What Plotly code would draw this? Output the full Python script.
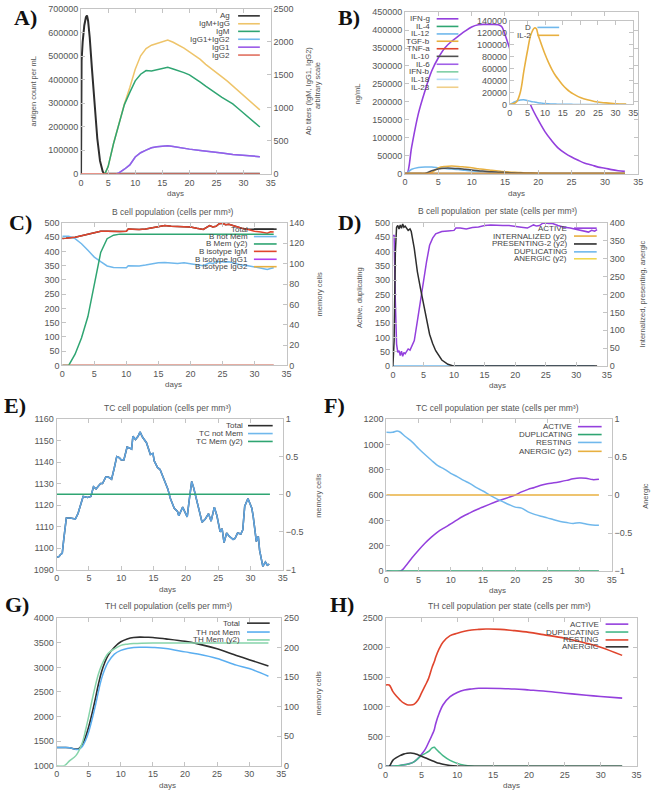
import plotly.graph_objects as go

# ---------------- DATA ----------------
A_ag_days = [0, 0.1, 0.3, 0.6, 0.9, 1.1, 1.3, 1.6, 2, 2.5, 3, 3.5, 4, 4.3, 10, 20, 33]
A_ag = [0, 480000, 560000, 630000, 665000, 672000, 650000, 580000, 450000, 290000, 150000, 55000, 10000, 0, 0, 0, 0]
A_ab_days = [4.4, 5, 6, 7, 8, 9, 10, 11, 12, 13, 14, 15, 16, 17, 18, 19, 20, 21, 22, 23, 24, 25, 26, 27, 28, 29, 30, 31, 32, 33]
A_igm_igg = [0, 110, 460, 760, 1060, 1310, 1585, 1790, 1900, 1950, 1980, 2010, 2030, 1995, 1955, 1905, 1850, 1795, 1735, 1660, 1600, 1530, 1470, 1405, 1335, 1260, 1190, 1115, 1045, 970]
A_igm = [0, 110, 460, 760, 1050, 1235, 1410, 1510, 1565, 1560, 1575, 1590, 1615, 1590, 1565, 1535, 1500, 1450, 1390, 1330, 1270, 1215, 1160, 1110, 1060, 990, 920, 855, 785, 710]
A_igg_days = [6.5, 7, 8, 9, 10, 11, 12, 13, 14, 15, 16, 17, 18, 20, 22, 24, 26, 28, 30, 32, 33]
A_igg1 = [0, 15, 70, 135, 255, 320, 360, 395, 410, 422, 425, 415, 400, 375, 355, 330, 315, 295, 285, 270, 260]
A_igg12 = [0, 15, 70, 135, 255, 320, 360, 395, 410, 422, 425, 415, 400, 375, 355, 330, 315, 295, 285, 270, 260]
A_zero_days = [0, 33]
A_igg2 = [0, 0]

B_days = [0, 0.3, 1, 2, 3, 4, 5, 6, 7, 8, 9, 10, 11, 12, 13, 14, 14.5, 15, 16, 17, 18, 19, 20, 21, 22, 23, 24, 25, 26, 27, 28, 29, 30, 31, 32, 33]
B_ifng = [0, 0, 75000, 167000, 231000, 286000, 323000, 351000, 369000, 383000, 397000, 409000, 415000, 416000, 416000, 415000, 410000, 388000, 332000, 277000, 231000, 185000, 149000, 117000, 92000, 71000, 57000, 46000, 37000, 29000, 24000, 18000, 15000, 11000, 8000, 6000]
B_il12 = [0, 2000, 12000, 17000, 18500, 18000, 16000, 14000, 12500, 11000, 9000, 7500, 6000, 4500, 3500, 2500, 2000, 1700, 1200, 800, 500, 350, 200, 100, 50, 0, 0, 0, 0, 0, 0, 0, 0, 0, 0, 0]
B_tgfb = [0, 0, 0, 0, 0, 3000, 16000, 20000, 21000, 20000, 18000, 16000, 13500, 11000, 9000, 7000, 6000, 5000, 4000, 3000, 2000, 1500, 1000, 700, 500, 300, 200, 100, 50, 0, 0, 0, 0, 0, 0, 0]
B_il10 = [0, 0, 0, 0, 500, 8000, 13000, 15000, 15000, 14000, 12000, 10000, 8000, 6500, 5000, 4000, 3500, 3000, 2000, 1500, 1000, 700, 400, 200, 100, 0, 0, 0, 0, 0, 0, 0, 0, 0, 0, 0]
B_zero_days = [0, 33]
B_zero = [0, 0]
Bi_days = [0, 1, 2, 3, 4, 5, 6, 7, 7.5, 8, 9, 10, 11, 12, 13, 14, 15, 16, 17, 18, 19, 20, 22, 24, 26, 28, 30, 33]
Bi_il2 = [0, 1000, 5000, 20400, 56000, 89000, 117000, 128000, 127000, 117000, 100000, 84000, 70000, 58000, 48000, 40000, 32500, 26500, 21500, 17600, 14300, 11600, 7700, 5000, 3300, 2200, 1100, 500]
Bi_d = [0, 3000, 6000, 7500, 8000, 6500, 5000, 4000, 3500, 3000, 2200, 1500, 1100, 800, 600, 400, 300, 200, 150, 100, 80, 60, 40, 20, 10, 0, 0, 0]

C_days = [0, 1, 2, 3, 4, 5, 6, 7, 8, 9, 10, 10.3, 11, 12, 13, 14, 15, 16, 17, 18, 19, 20, 21, 22, 23, 23.5, 24, 24.5, 25, 25.5, 26, 27, 28, 29, 30, 31, 32, 32.5, 33]
C_igm = [445, 447, 450, 455, 460, 464, 471, 471, 470, 470, 471, 479, 478, 477, 479, 483, 487, 491, 488, 487, 488, 486, 481, 477, 491, 486, 488, 497, 499, 494, 495, 488, 481, 477, 471, 468, 464, 469, 468]
C_total = [445, 447, 450, 455, 460, 464, 471, 471, 470, 470, 471, 479, 478, 477, 479, 483, 487, 491, 488, 487, 488, 486, 481, 477, 491, 486, 488, 497, 499, 494, 495, 488, 481, 478, 478, 478, 478, 478, 478]
C_notmem = [453, 453, 445, 427, 404, 380, 364, 349, 344, 343, 343, 350, 350, 349, 352, 356, 360, 361, 359, 358, 360, 356, 352, 350, 360, 357, 364, 365, 364, 362, 364, 358, 352, 350, 346, 343, 337, 340, 343]
C_mem = [0, 0, 11, 27, 48, 79, 111, 124.5, 128, 129, 129, 129, 129, 129, 129, 129, 129, 129, 129, 129, 129, 129, 129, 129, 129, 129, 129, 129, 129, 129, 129, 129, 129, 129, 129, 129, 129, 129, 129]
C_zero_days = [0, 33]
C_igg = [0, 0]

D_days = [0, 0.2, 0.4, 0.6, 0.8, 1, 1.2, 1.4, 1.6, 1.8, 2, 2.3, 2.5, 2.8, 3, 3.5, 4, 4.5, 5, 5.5, 6, 6.5, 7, 8, 9, 10, 10.3, 11, 12, 13, 14, 15, 16, 17, 18, 19, 20, 21, 22, 23, 23.5, 24, 24.5, 25, 25.5, 26, 27, 28, 29, 30, 31, 32, 32.5, 33, 33.4]
D_active = [456, 456, 226, 77, 48, 54, 37, 52, 34, 48, 43, 54, 60, 56, 66, 89, 157, 226, 307, 364, 422, 447, 462, 470, 472, 474, 482, 482, 479, 484, 486, 491, 493, 491, 491, 491, 489, 485, 482, 493, 489, 491, 499, 500, 498, 499, 491, 485, 482, 477, 472, 468, 474, 471, 477]
D_pres = [0, 71, 319, 388, 393, 383, 394, 385, 397, 388, 391, 385, 379, 383, 376, 328, 264, 218, 172, 126, 89, 63, 43, 17, 5, 0, 0, 0, 0, 0, 0, 0, 0, 0, 0, 0, 0, 0, 0, 0, 0, 0, 0, 0, 0, 0, 0, 0, 0, 0, 0, 0, 0, 0, 0]
D_zero_days = [0, 33]
D_dup = [0, 0]

E_days = [0, 0.36, 0.6, 0.87, 1.1, 1.5, 2.1, 2.9, 3.3, 3.7, 4.1, 4.8, 5.3, 5.7, 6.1, 6.5, 6.8, 7.1, 7.6, 8.0, 8.5, 8.9, 9.3, 9.7, 10, 10.4, 10.9, 11.3, 11.6, 11.8, 12.2, 12.6, 12.9, 13.3, 13.9, 14.5, 14.9, 15.1, 15.6, 16.0, 16.7, 17.2, 17.6, 18.2, 18.7, 18.9, 19.5, 19.7, 20.2, 20.5, 20.9, 21.2, 21.8, 22.5, 23, 23.5, 23.9, 24.4, 24.8, 25.3, 25.6, 25.9, 26.3, 26.7, 27.3, 27.6, 28, 28.5, 28.8, 29.1, 29.6, 30.2, 30.4, 30.9, 31.2, 31.4, 31.9, 32.3, 32.6, 32.9]
E_notmem = [1095.7, 1096, 1097, 1097.5, 1104, 1114, 1114, 1113.5, 1116, 1120, 1124, 1123.5, 1124, 1128.5, 1127.5, 1129, 1130, 1130, 1133, 1133, 1132, 1137, 1142.5, 1142, 1141, 1141, 1147, 1146.5, 1146, 1152, 1150.5, 1152, 1154, 1151.5, 1149, 1143.5, 1144, 1140.5, 1137.5, 1136.5, 1131, 1127.5, 1123, 1118.5, 1117, 1115, 1119, 1117.5, 1114.5, 1122, 1131, 1128, 1121, 1112, 1113.5, 1116, 1112.5, 1119, 1115, 1107.5, 1109, 1102.5, 1107, 1105.5, 1104, 1104.5, 1107, 1106.5, 1108.5, 1119.5, 1123, 1118.5, 1115, 1103, 1105.5, 1099, 1091.5, 1093.5, 1092, 1092.5]
E_total = E_notmem
E_zero_days = [0, 33]
E_mem = [0, 0]

F_rest_days = [0, 1, 1.5, 2, 3, 4, 5, 6, 7, 8, 9, 10, 11, 12, 13, 14, 15, 16, 17, 18, 19, 20, 21, 22, 23, 24, 25, 26, 27, 28, 29, 30, 31, 32, 33]
F_resting = [1095, 1095, 1104, 1102, 1060, 1020, 968, 920, 875, 832, 805, 772, 745, 716, 690, 658, 632, 602, 574, 550, 526, 505, 497, 467, 448, 433, 420, 405, 392, 383, 376, 382, 372, 364, 362]
F_act_days = [0, 2.2, 3, 4, 5, 6, 7, 8, 9, 10, 11, 12, 13, 14, 15, 16, 17, 18, 19, 20, 21, 22, 23, 24, 25, 26, 27, 28, 29, 30, 31, 32, 33]
F_active = [0, 0, 40, 105, 165, 220, 268, 310, 342, 372, 405, 435, 460, 484, 506, 527, 547, 565, 582, 600, 625, 645, 660, 678, 690, 697, 706, 716, 728, 735, 733, 722, 725]
F_zero_days = [0, 33]
F_dup = [0, 0]
F_anergic = [0, 0]

G_days = [0, 1, 2, 3, 3.5, 4, 4.5, 5, 5.5, 6, 6.5, 7, 7.5, 8, 9, 10, 11, 12, 13, 14, 15, 17, 20, 22, 25, 28, 30, 33]
G_total = [1368, 1368, 1365, 1335, 1350, 1430, 1580, 1790, 2050, 2340, 2650, 2910, 3100, 3240, 3410, 3520, 3578, 3608, 3615, 3612, 3608, 3580, 3530, 3478, 3377, 3243, 3156, 3029]
G_notmem = [1368, 1368, 1365, 1330, 1335, 1390, 1510, 1690, 1930, 2200, 2500, 2770, 2960, 3100, 3270, 3345, 3385, 3405, 3410, 3410, 3405, 3385, 3315, 3270, 3180, 3045, 2975, 2820]
G_mem_days = [0, 1.2, 2, 3, 4, 4.5, 5, 5.5, 6, 6.5, 7, 8, 9, 10, 11, 12, 15, 20, 25, 30, 33]
G_mem = [0, 0, 8, 17, 39, 60, 84, 110, 134, 155, 170, 190, 198, 204, 206, 207, 208, 208, 208, 208, 208]

H_days = [0, 0.5, 1, 1.5, 2, 2.5, 3, 3.5, 4, 4.5, 5, 5.5, 6, 6.5, 6.8, 7, 7.5, 8, 9, 10, 11, 12, 13, 14, 16, 18, 20, 22, 25, 28, 30, 33]
H_resting = [1366, 1366, 1260, 1180, 1117, 1065, 1034, 1030, 1045, 1110, 1228, 1350, 1477, 1670, 1760, 1836, 1980, 2085, 2196, 2235, 2268, 2290, 2300, 2306, 2301, 2279, 2251, 2212, 2152, 2069, 2002, 1864]
H_active = [0, 0, 5, 8, 15, 25, 35, 50, 80, 130, 200, 280, 400, 530, 620, 720, 900, 1030, 1170, 1240, 1283, 1300, 1311, 1311, 1308, 1300, 1283, 1265, 1228, 1195, 1173, 1145]
H_dup = [0, 0, 5, 8, 15, 25, 35, 50, 80, 130, 180, 215, 250, 310, 320, 295, 235, 180, 100, 50, 20, 5, 0, 0, 0, 0, 0, 0, 0, 0, 0, 0]
H_anergic = [0, 0, 100, 145, 180, 205, 220, 225, 215, 195, 170, 145, 120, 95, 80, 70, 50, 35, 12, 3, 0, 0, 0, 0, 0, 0, 0, 0, 0, 0, 0, 0]

# ---------------- STYLE ----------------
W, H = 658, 797
FONT = "Liberation Sans, Arial, sans-serif"
PURPLE = '#9440dd'
GREEN = '#2fa572'
LBLUE = '#70b8ec'
ORANGE = '#e8b040'
RED = '#e0452d'
BLACK = '#2e2e2e'
YELLOW = '#f0d850'
LGREEN = '#86d4aa'
EBLUE = '#5fa4e0'


def px(x):
    return x / W


def py(y):
    return 1 - y / H


fig = go.Figure()


def line(xs, ys, color, xa, ya, width=1.5, shape='linear'):
    fig.add_trace(go.Scatter(x=xs, y=ys, mode='lines',
                             line=dict(color=color, width=width, shape=shape),
                             xaxis=xa, yaxis=ya, showlegend=False, hoverinfo='skip'))


line(A_ag_days, A_ag, BLACK, 'x', 'y', 2)
line(A_ab_days, A_igm_igg, '#eec46a', 'x', 'y2')
line(A_ab_days, A_igm, GREEN, 'x', 'y2')
line(A_igg_days, A_igg12, LBLUE, 'x', 'y2')
line(A_igg_days, A_igg1, '#9a5ae8', 'x', 'y2')
line(A_zero_days, A_igg2, '#e07060', 'x', 'y2')

line(B_days, B_ifng, PURPLE, 'x2', 'y3', 1.6, 'spline')
line(B_zero_days, B_zero, GREEN, 'x2', 'y3')
line(B_days, B_il12, LBLUE, 'x2', 'y3', 1.5, 'spline')
line(B_days, B_tgfb, ORANGE, 'x2', 'y3', 1.5, 'spline')
line(B_zero_days, B_zero, RED, 'x2', 'y3')
line(B_days, B_il10, '#505050', 'x2', 'y3', 1.5, 'spline')
line(B_zero_days, B_zero, ORANGE, 'x2', 'y3')
line(Bi_days, Bi_d, LBLUE, 'x3', 'y4', 1.5, 'spline')
line(Bi_days, Bi_il2, ORANGE, 'x3', 'y4', 1.6, 'spline')

line(C_days, C_total, BLACK, 'x4', 'y5')
line(C_days, C_notmem, LBLUE, 'x4', 'y5')
line(C_days, C_mem, GREEN, 'x4', 'y6')
line(C_zero_days, C_igg, PURPLE, 'x4', 'y5')
line(C_zero_days, C_igg, ORANGE, 'x4', 'y6')
line(C_days, C_igm, RED, 'x4', 'y5')
line(C_zero_days, C_igg, RED, 'x4', 'y5')

line(D_days, D_active, PURPLE, 'x5', 'y7')
line(D_days, D_pres, BLACK, 'x5', 'y8')
line(D_zero_days, D_dup, LBLUE, 'x5', 'y7')

line(E_days, E_total, BLACK, 'x6', 'y9')
line(E_days, E_notmem, EBLUE, 'x6', 'y9', 1.6)
line(E_zero_days, E_mem, GREEN, 'x6', 'y10')

line(F_act_days, F_active, PURPLE, 'x7', 'y11', 1.5, 'spline')
line(F_zero_days, F_dup, GREEN, 'x7', 'y11')
line(F_rest_days, F_resting, LBLUE, 'x7', 'y11', 1.5, 'spline')
line(F_zero_days, F_anergic, ORANGE, 'x7', 'y12')

line(G_days, G_total, BLACK, 'x8', 'y13', 1.6, 'spline')
line(G_days, G_notmem, '#5aaef0', 'x8', 'y13', 1.5, 'spline')
line(G_mem_days, G_mem, LGREEN, 'x8', 'y14', 1.5, 'spline')

line(H_days, H_active, PURPLE, 'x9', 'y15', 1.6, 'spline')
line(H_days, H_dup, '#45b888', 'x9', 'y15', 1.5, 'spline')
line(H_days, H_resting, RED, 'x9', 'y15', 1.6, 'spline')
line(H_days, H_anergic, BLACK, 'x9', 'y15', 1.6, 'spline')

AX = dict(showline=True, linecolor='#c4c4c4', linewidth=1, ticks='inside', ticklen=4,
          tickcolor='#c4c4c4', tickfont=dict(size=9, color='#555555', family=FONT),
          showgrid=False, zeroline=False)

layout = {}


def xax(name, l, r, anchor):
    layout[name] = dict(AX, domain=[px(l), px(r)], range=[0, 35], dtick=5, anchor=anchor,
                        mirror='ticks', tickformat='d')


def yax(name, t, b, rng, dt, anchor, mirror=False, fmt='d'):
    layout[name] = dict(AX, domain=[py(b), py(t)], range=rng, dtick=dt, anchor=anchor,
                        mirror=mirror, tickformat=fmt)


def y2ax(name, over, t, b, rng, dt, anchor, fmt='d'):
    layout[name] = dict(AX, domain=[py(b), py(t)], range=rng, dtick=dt, overlaying=over,
                        side='right', anchor=anchor, tickformat=fmt)


xax('xaxis', 79, 271, 'y')
yax('yaxis', 4, 171, [0, 700000], 100000, 'x')
y2ax('yaxis2', 'y', 4, 171, [0, 2500], 500, 'x')

xax('xaxis2', 407, 643, 'y3')
yax('yaxis3', 7.3, 170.7, [0, 450000], 50000, 'x2', mirror='ticks')
xax('xaxis3', 513, 638, 'y4')
yax('yaxis4', 16, 100.7, [0, 140000], 20000, 'x3', mirror='ticks')

xax('xaxis4', 60, 287, 'y5')
yax('yaxis5', 220.7, 365, [0, 500], 50, 'x4')
y2ax('yaxis6', 'y5', 220.7, 365, [0, 140], 20, 'x4')

xax('xaxis5', 394.7, 611.3, 'y7')
yax('yaxis7', 220.7, 365.7, [0, 500], 50, 'x5')
y2ax('yaxis8', 'y7', 220.7, 365.7, [0, 400], 50, 'x5')

xax('xaxis6', 54.3, 283.3, 'y9')
yax('yaxis9', 419.3, 571.7, [1090, 1160], 10, 'x6')
y2ax('yaxis10', 'y9', 419.3, 571.7, [-1, 1], 0.5, 'x6', fmt='')

xax('xaxis7', 388, 616.3, 'y11')
yax('yaxis11', 419.3, 573.3, [0, 1200], 200, 'x7')
y2ax('yaxis12', 'y11', 419.3, 573.3, [-1, 1], 0.5, 'x7', fmt='')

xax('xaxis8', 54.3, 281.7, 'y13')
yax('yaxis13', 621, 770.3, [1000, 4000], 500, 'x8')
y2ax('yaxis14', 'y13', 621, 770.3, [0, 250], 50, 'x8')

xax('xaxis9', 387.3, 641.3, 'y15')
yax('yaxis15', 620.3, 771, [0, 2500], 500, 'x9', mirror='ticks')

annotations = []
shapes = []


def text(x, y, s, size=8, angle=0, xanchor='center', color='#555555', family=FONT, bold=False):
    if bold:
        s = '<b>' + s + '</b>'
    annotations.append(dict(x=px(x), y=py(y), xref='paper', yref='paper', text=s, showarrow=False,
                            font=dict(size=size, color=color, family=family), textangle=angle,
                            xanchor=xanchor, yanchor='middle'))


def legend(right, s0, s1, rows, labels, colors):
    for yy, lab, col in zip(rows, labels, colors):
        text(right, yy, lab, size=8, xanchor='right', color='#444444')
        shapes.append(dict(type='line', xref='paper', yref='paper', x0=px(s0), x1=px(s1),
                           y0=py(yy), y1=py(yy), line=dict(color=col, width=1.6)))


for lx, ly, lt in [(23, 13, 'A)'), (350, 13, 'B)'), (18, 220, 'C)'), (351, 220, 'D)'),
                   (12, 406, 'E)'), (336, 406, 'F)'), (14, 607, 'G)'), (343, 607, 'H)')]:
    text(lx, ly, lt, size=22, color='#111111', family='Liberation Serif, Times New Roman, serif', bold=True)

text(172, 210, 'B cell population (cells per mm³)', size=8.5)
text(501, 209, 'B cell population  per state (cells per mm³)', size=8.5)
text(167, 408, 'TC cell population (cells per mm³)', size=8.5)
text(501, 408, 'TC cell population per state (cells per mm³)', size=8.5)
text(168, 609, 'TH cell population (cells per mm³)', size=8.5)
text(513, 609, 'TH cell population per state (cells per mm³)', size=8.5)

for x, y in [(175, 191), (520, 191), (173, 384), (501, 385), (167, 592), (501, 593), (167, 790), (515, 790)]:
    text(x, y, 'days', size=8)
text(31, 88, 'antigen count per mL', size=7.5, angle=-90)
text(310, 87, 'Ab titers (IgM, IgG1, IgG2)', size=7.5, angle=-90)
text(319, 82, 'arbitrary scale', size=7.5, angle=-90)
text(359, 90, 'ng/mL', size=7.5, angle=-90)
text(320, 293, 'memory cells', size=7.5, angle=-90)
text(361, 297, 'Active, duplicating', size=7.5, angle=-90)
text(647, 293, 'Internalized, presenting, anergic', size=7.5, angle=-90)
text(320, 497, 'memory cells', size=7.5, angle=-90)
text(651, 497, 'Anergic', size=7.5, angle=-90)
text(319, 697, 'memory cells', size=7.5, angle=-90)

legend(232, 238, 260, [11, 19, 26.7, 34.7, 42.7, 50.7],
       ['Ag', 'IgM+IgG', 'IgM', 'IgG1+IgG2', 'IgG1', 'IgG2'],
       [BLACK, '#eec46a', GREEN, LBLUE, '#9a5ae8', '#e07060'])
legend(434, 439, 461, [14, 21.7, 29.3, 36.7, 44.3, 52, 60, 67.7, 75.3, 83.3],
       ['IFN-g', 'IL-4', 'IL-12', 'TGF-b', 'TNF-a', 'IL-10', 'IL-6', 'IFN-b', 'IL-18', 'IL-23'],
       [PURPLE, GREEN, LBLUE, ORANGE, RED, '#505050', '#a060e8', '#7fcfa5', '#b5dcf5', '#f0cf8a'])
legend(537, 541, 563, [22.7, 30.7], ['D', 'IL-2'], [LBLUE, ORANGE])
legend(250, 254, 277, [227, 234.5, 242, 249.5, 257.5, 265],
       ['Total', 'B not Mem', 'B Mem (y2)', 'B isotype IgM', 'B isotype IgG1', 'B isotype IgG2'],
       [BLACK, LBLUE, GREEN, RED, '#b040f0', ORANGE])
legend(573, 578, 601, [226, 234, 242, 250, 257],
       ['ACTIVE', 'INTERNALIZED (y2)', 'PRESENTING-2 (y2)', 'DUPLICATING', 'ANERGIC (y2)'],
       [PURPLE, ORANGE, BLACK, LBLUE, YELLOW])
legend(245, 248, 273, [426, 434, 442], ['Total', 'TC not Mem', 'TC Mem (y2)'], [BLACK, LBLUE, GREEN])
legend(578, 582, 606, [427, 435, 443, 452], ['ACTIVE', 'DUPLICATING', 'RESTING', 'ANERGIC (y2)'],
       [PURPLE, GREEN, LBLUE, ORANGE])
legend(242, 247, 270, [626, 635, 643], ['Total', 'TH not Mem', 'TH Mem (y2)'], [BLACK, '#5aaef0', LGREEN])
legend(605, 610, 633, [627, 635, 643, 650], ['ACTIVE', 'DUPLICATING', 'RESTING', 'ANERGIC'],
       [PURPLE, '#45b888', RED, BLACK])

fig.update_layout(width=W, height=H, margin=dict(l=0, r=0, t=0, b=0),
                  paper_bgcolor='white', plot_bgcolor='white', showlegend=False,
                  font=dict(family=FONT, size=9, color='#555555'),
                  annotations=annotations, shapes=shapes, **layout)

fig.write_html("out.html")
